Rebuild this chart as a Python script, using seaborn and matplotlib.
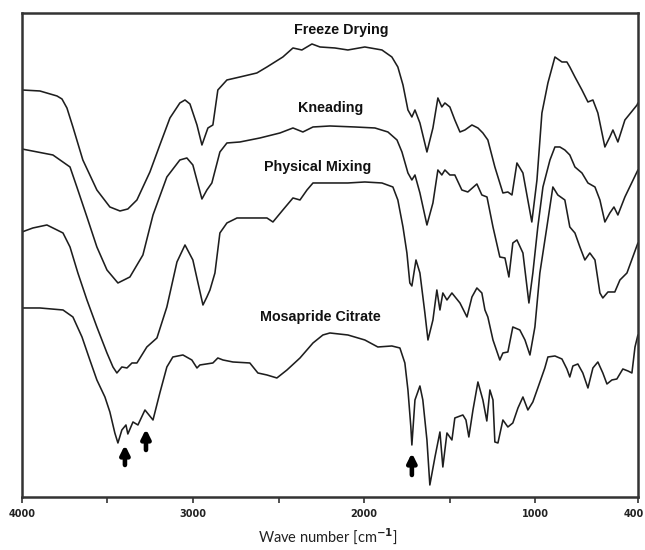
import matplotlib
matplotlib.use("Agg")
import matplotlib.pyplot as plt
import matplotlib.transforms as mtrans
import seaborn as sns
import pandas as pd

# ---- data (wavenumber cm-1, arbitrary transmittance units) ----
freeze_wn = [4000, 3895, 3795, 3766, 3737, 3702, 3644, 3562, 3486, 3427, 3381, 3328, 3252, 3194, 3135,
             3077, 3047, 3018, 2977, 2948, 2913, 2884, 2855, 2802, 2726, 2627, 2568, 2475, 2416, 2364,
             2305, 2258, 2171, 2095, 1996, 1896, 1838, 1803, 1773, 1744, 1721, 1703, 1674, 1633, 1598,
             1569, 1546, 1528, 1499, 1470, 1440, 1411, 1370, 1335, 1306, 1277, 1236, 1189, 1160, 1136,
             1107, 1072, 1020, 990, 961, 926, 885, 844, 815, 798, 768, 727, 692, 663, 634, 593, 564,
             546, 517, 476, 405, 400]
freeze_t = [410, 409, 404, 401, 392, 373, 340, 310, 293, 289, 291, 300, 328, 355, 382,
            397, 400, 396, 375, 355, 372, 375, 410, 420, 423, 427, 433, 443, 452, 450,
            456, 453, 452, 450, 453, 450, 443, 433, 415, 390, 383, 390, 377, 348, 372,
            402, 393, 397, 393, 380, 368, 370, 375, 372, 367, 360, 333, 307, 308, 305,
            337, 327, 278, 320, 387, 417, 443, 438, 438, 433, 423, 410, 398, 400, 387, 353, 363,
            370, 358, 380, 395, 397]

knead_wn = [4000, 3819, 3719, 3679, 3620, 3562, 3503, 3439, 3369, 3293, 3234, 3153, 3077, 3036, 3001,
            2948, 2919, 2890, 2843, 2802, 2726, 2609, 2492, 2416, 2358, 2299, 2200, 2054, 1937, 1861,
            1808, 1779, 1744, 1721, 1703, 1674, 1633, 1598, 1569, 1546, 1528, 1499, 1470, 1429, 1394,
            1341, 1312, 1282, 1247, 1207, 1177, 1154, 1131, 1107, 1072, 1037, 1014, 985, 955, 914,
            885, 856, 827, 798, 768, 727, 692, 651, 622, 593, 564, 540, 517, 476, 400]
knead_t = [351, 345, 333, 313, 283, 253, 230, 217, 223, 245, 285, 323, 340, 342, 335,
           301, 310, 317, 348, 357, 358, 362, 367, 372, 368, 373, 374, 373, 372, 368,
           360, 348, 327, 320, 325, 307, 275, 297, 330, 325, 330, 325, 325, 310, 308,
           316, 305, 303, 273, 243, 242, 223, 257, 260, 247, 197, 227, 273, 313, 340,
           353, 353, 350, 345, 333, 327, 317, 313, 300, 278, 287, 293, 285, 303, 330]

phys_wn = [4000, 3936, 3854, 3795, 3760, 3719, 3673, 3620, 3562, 3503, 3468, 3445, 3416, 3386, 3357,
           3328, 3270, 3211, 3153, 3094, 3047, 3001, 2971, 2942, 2919, 2901, 2872, 2843, 2802, 2743,
           2685, 2627, 2568, 2533, 2475, 2416, 2375, 2334, 2299, 2200, 2095, 1996, 1896, 1832, 1803,
           1773, 1750, 1733, 1721, 1697, 1674, 1645, 1627, 1598, 1575, 1557, 1540, 1516, 1487, 1440,
           1399, 1370, 1341, 1312, 1294, 1277, 1247, 1207, 1189, 1160, 1131, 1090, 1060, 1031, 1002,
           973, 932, 897, 868, 827, 798, 768, 739, 710, 681, 651, 622, 605, 575, 535, 505, 464, 400]
phys_t = [268, 272, 275, 270, 267, 253, 227, 200, 173, 147, 133, 127, 133, 132, 137,
          137, 153, 162, 193, 238, 255, 240, 217, 195, 203, 210, 227, 267, 277, 282,
          282, 282, 282, 278, 290, 302, 300, 310, 317, 317, 317, 318, 317, 313, 300,
          273, 247, 217, 214, 240, 227, 187, 160, 180, 210, 190, 207, 200, 207, 197,
          183, 203, 212, 207, 190, 183, 160, 140, 147, 148, 173, 170, 160, 145, 173,
          227, 273, 313, 305, 300, 273, 267, 253, 240, 247, 240, 207, 202, 208, 208, 220, 227, 257]

mosa_wn = [4000, 3895, 3760, 3702, 3649, 3603, 3562, 3515, 3486, 3457, 3439, 3416, 3392, 3381, 3351,
           3322, 3281, 3234, 3194, 3153, 3118, 3059, 3007, 2977, 2960, 2884, 2855, 2825, 2767, 2668,
           2621, 2568, 2510, 2451, 2375, 2299, 2241, 2200, 2095, 1996, 1920, 1838, 1791, 1762, 1744,
           1727, 1721, 1703, 1674, 1657, 1633, 1616, 1586, 1557, 1540, 1516, 1487, 1470, 1423, 1405,
           1388, 1364, 1335, 1306, 1283, 1265, 1247, 1236, 1218, 1189, 1160, 1131, 1101, 1072, 1043,
           1014, 985, 944, 926, 885, 844, 815, 798, 780, 751, 722, 692, 663, 634, 605, 581, 552,
           523, 488, 458, 435, 417, 400]
mosa_t = [192, 192, 190, 183, 163, 140, 120, 103, 88, 67, 57, 70, 75, 66, 78,
          75, 90, 80, 107, 133, 143, 145, 140, 132, 135, 137, 142, 140, 138, 137,
          127, 125, 122, 130, 142, 157, 165, 167, 165, 160, 153, 154, 152, 137, 110,
          73, 55, 100, 114, 100, 60, 15, 43, 68, 33, 67, 60, 82, 85, 80,
          63, 90, 118, 100, 79, 110, 100, 58, 57, 80, 73, 77, 92, 103, 90,
          98, 112, 132, 143, 144, 141, 131, 123, 134, 136, 127, 112, 132, 138, 127, 116, 120,
          121, 131, 129, 127, 153, 165]

labels = ["Freeze Drying", "Kneading", "Physical Mixing", "Mosapride Citrate"]
label_wn = [2136, 2194, 2270, 2258]
label_t = [470, 392, 333, 183]

arrow_wn = [3398, 3275, 1721]
arrow_tail = [35, 50, 25]
arrow_tip = [55, 71, 47]

major_ticks = [4000, 3000, 2000, 1000, 400]
minor_ticks = [3500, 2500, 1500]

# ---- build long table ----
frames = []
for name, wn, t in zip(labels, [freeze_wn, knead_wn, phys_wn, mosa_wn],
                       [freeze_t, knead_t, phys_t, mosa_t]):
    frames.append(pd.DataFrame({"wn": wn, "t": t, "sample": name}))
df = pd.concat(frames, ignore_index=True)

sns.set_style("white")
plt.rcParams["font.family"] = ["DejaVu Sans"]

fig = plt.figure(figsize=(6.45, 5.5), dpi=100)
ax = fig.add_axes([0.034, 0.0964, 0.955, 0.88])

for name in labels:
    sub = df[df["sample"] == name]
    sns.lineplot(data=sub, x="wn", y="t", ax=ax, color="#1e1e1e", linewidth=1.15,
                 estimator=None, sort=False, legend=False)

ax.set_xlim(4000, 400)
ax.set_ylim(3, 487)

for name, x, y in zip(labels, label_wn, label_t):
    ax.text(x, y, name, ha="center", va="center", fontsize=10.3, fontweight="bold",
            family=["Liberation Sans", "DejaVu Sans"], color="#111111")

for x, t0, t1 in zip(arrow_wn, arrow_tail, arrow_tip):
    ax.annotate("", xy=(x, t1), xytext=(x, t0),
                arrowprops=dict(arrowstyle="-|>", lw=3.3, color="black",
                                mutation_scale=13, shrinkA=0, shrinkB=0))

ax.set_xticks(major_ticks)
ax.set_xticklabels([str(v) for v in major_ticks], fontsize=7, fontweight="bold",
                   color="#222222")
ax.set_xticks(minor_ticks, minor=True)
ax.tick_params(axis="x", which="both", direction="out", length=4, width=1.2,
               color="#333333", bottom=True, pad=5)
# nudge the last tick label so it stays inside the picture, as in the reference
last = ax.get_xticklabels()[-1]
last.set_transform(last.get_transform() + mtrans.ScaledTranslation(-4 / 100, 0, fig.dpi_scale_trans))
ax.set_yticks([])
ax.set_ylabel("")
ax.set_xlabel("Wave number [cm$^{\\mathbf{-1}}$]", fontsize=10.5,
              family=["Lato", "DejaVu Sans"], color="#222222", va="center")
ax.xaxis.set_label_coords(0.509, 0.026, transform=fig.transFigure)

for s in ax.spines.values():
    s.set_visible(True)
    s.set_color("#333333")
    s.set_linewidth(1.8)

fig.savefig("out.png", dpi=100)
